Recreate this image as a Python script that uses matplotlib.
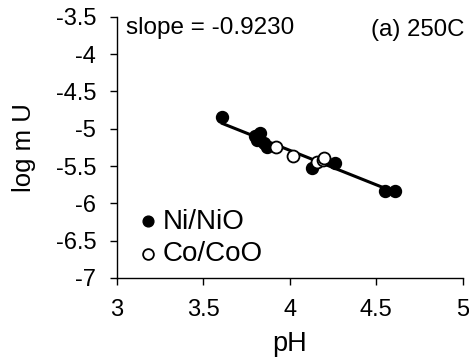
import numpy as np
import matplotlib
matplotlib.use("Agg")
import matplotlib.pyplot as plt

plt.rcParams['font.family'] = ['Liberation Sans', 'DejaVu Sans']

# Ni/NiO buffer runs
ni_ph = [3.61, 3.80, 3.83, 3.81, 3.85, 3.87, 4.13, 4.26, 4.55, 4.61]
ni_logu = [-4.84, -5.10, -5.06, -5.15, -5.19, -5.25, -5.53, -5.46, -5.83, -5.83]
# Co/CoO buffer runs
co_ph = [3.92, 4.02, 4.16, 4.19, 4.20]
co_logu = [-5.24, -5.36, -5.45, -5.42, -5.39]

slope = -0.9230
x_ticks = [3, 3.5, 4, 4.5, 5]
y_ticks = [-3.5, -4, -4.5, -5, -5.5, -6, -6.5, -7]

fig = plt.figure(figsize=(4.69, 3.64), dpi=100)
ax = fig.add_axes([0.2495, 0.2363, 0.737, 0.7177])

# Regression line with fixed slope through the data centroid
all_x = np.array(ni_ph + co_ph)
all_y = np.array(ni_logu + co_logu)
intercept = all_y.mean() - slope * all_x.mean()
xl = np.array([all_x.min(), all_x.max()])
ax.plot(xl, intercept + slope * xl, color='black', lw=2.2, zorder=2)

ax.scatter(ni_ph, ni_logu, s=74, color='black', zorder=3, label='Ni/NiO')
ax.scatter(co_ph, co_logu, s=74, facecolor='white', edgecolor='black',
           linewidths=1.3, zorder=4, label='Co/CoO')

ax.set_xlim(3, 5)
ax.set_ylim(-7, -3.5)
ax.set_xticks(x_ticks)
ax.set_xticklabels([f"{t:g}" for t in x_ticks])
ax.set_yticks(y_ticks)
ax.set_yticklabels([f"{t:g}" for t in y_ticks])
ax.tick_params(direction='out', length=5, width=1, labelsize=17)
ax.tick_params(axis='x', pad=10)
ax.tick_params(axis='y', pad=10)
ax.spines['top'].set_visible(False)
ax.spines['right'].set_visible(False)
ax.spines['left'].set_linewidth(1)
ax.spines['bottom'].set_linewidth(1)

ax.set_xlabel('pH', fontsize=19.5, labelpad=7)
ax.set_ylabel('log m U', fontsize=18.5, labelpad=14)

ax.text(0.026, 0.934, f'slope = {slope:.4f}', transform=ax.transAxes,
        fontsize=17.5, va='baseline', ha='left')
ax.text(1.006, 0.9245, '(a) 250C', transform=ax.transAxes,
        fontsize=17.3, va='baseline', ha='right')

ax.legend(loc='center left', bbox_to_anchor=(0.0656, 0.1536), frameon=False,
          fontsize=20, handlelength=0.6, handletextpad=0.24,
          labelspacing=0.23, markerscale=0.9, borderaxespad=0, borderpad=0)

fig.savefig('out.png', dpi=100)
